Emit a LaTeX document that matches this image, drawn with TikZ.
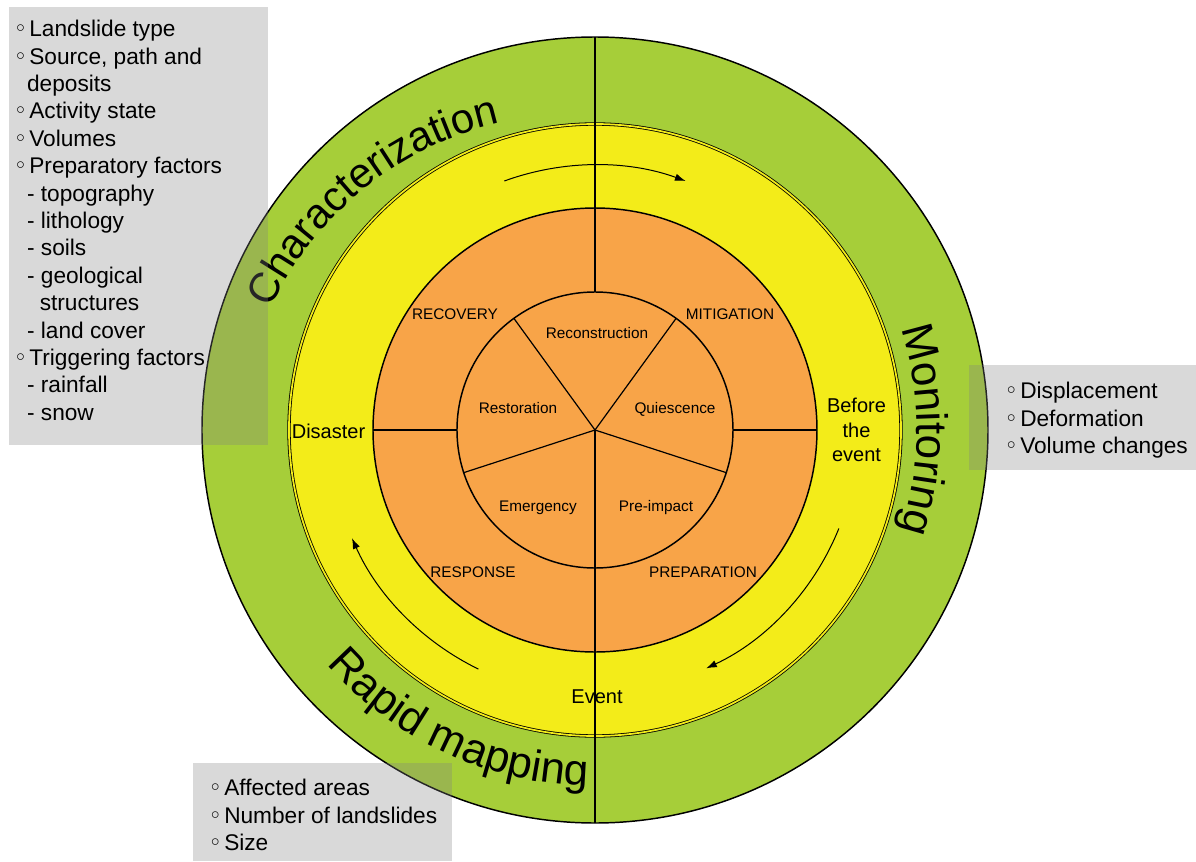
\documentclass[tikz,border=0pt]{standalone}
\usepackage{fontspec}
\setmainfont{Liberation Sans}
\newfontfamily\symfont{DejaVu Sans}
\usetikzlibrary{decorations.text,arrows.meta}
\definecolor{ringgreen}{RGB}{166,206,57}
\definecolor{ringyellow}{RGB}{243,236,25}
\definecolor{ringorange}{RGB}{248,164,72}
\definecolor{boxgray}{RGB}{128,128,128}
\newcommand{\wbul}{\makebox[11.7pt][l]{\symfont\char"25E6}}
\newcommand{\bigfont}{\fontsize{33}{33}\selectfont}
\newcommand{\charfont}{\fontsize{31.5}{31.5}\selectfont}
\begin{document}
\begin{tikzpicture}[x=0.75pt,y=0.75pt,
  ring/.style={line width=1.1pt},
  spoke/.style={line width=0.9pt},
  cyclearrow/.style={line width=0.75pt,-{Latex[length=8pt,width=5.5pt]}},
  phase/.style={font=\fontsize{11.5}{13}\selectfont,inner sep=0pt,anchor=base},
  stage/.style={font=\fontsize{15}{18.4}\selectfont,inner sep=0pt,align=center},
  infobox/.style={fill=boxgray,fill opacity=0.3,inner sep=0pt,anchor=north west},
  infotext/.style={font=\fontsize{17}{20.55}\selectfont,align=left,inner sep=0pt,anchor=north west},
  arctext/.style={decorate,decoration={text along path,text align=center,text={|\bigfont|#1}}},
  arctextc/.style={decorate,decoration={text along path,text align=center,text={|\charfont|#1}}}
]
\useasboundingbox (-595,-431) rectangle (601,430);
\coordinate (c) at (0,0);
% rings
\draw[ring,fill=ringgreen] (c) circle[radius=393];
\draw[line width=0.6pt,double=ringyellow,double distance=1.3pt,fill=ringyellow] (c) circle[radius=306];
\draw[ring,fill=ringorange] (c) circle[radius=222];
\draw[ring] (c) circle[radius=138];
% stage labels
\node[stage] (disaster) at (-266.5,-1) {Disaster};
\node[stage] (before) at (261.5,0) {Before\\the\\event};
\node[stage,anchor=base] (event) at (2,-273) {Event};
% phase labels
\node[phase] (recovery) at (-140,111) {RECOVERY};
\node[phase] (mitigation) at (135,111) {MITIGATION};
\node[phase] (response) at (-122,-147) {RESPONSE};
\node[phase] (preparation) at (108,-147) {PREPARATION};
\node[phase] (reconstruction) at (2,92) {Reconstruction};
\node[phase] (restoration) at (-77,17) {Restoration};
\node[phase] (quiescence) at (80,17) {Quiescence};
\node[phase] (emergency) at (-57,-81) {Emergency};
\node[phase] (preimpact) at (61,-81) {Pre-impact};
% dividing lines
\foreach \a in {54,126,198,342} \draw[spoke] (c) -- (\a:138);
\draw[spoke] (90:138) -- (90:393);
\draw[spoke] (c) -- (270:393);
\draw[spoke] (180:222) -- (180:138);
\draw[spoke] (0:138) -- (0:222);
% cycle arrows
\draw[cyclearrow] (110:265) arc[start angle=110,end angle=70,radius=265];
\draw[cyclearrow] (-22:263) arc[start angle=-22,end angle=-65,radius=263];
\draw[cyclearrow] (244:266) arc[start angle=244,end angle=204,radius=266];
% curved titles
\path[arctextc=Characterization,shift={(-21,-19)}] (174:334) arc[start angle=174,end angle=84,radius=334];
\path[arctext=Monitoring] (45:322) arc[start angle=45,end angle=-45,radius=322];
\path[arctext={Rapid mapping}] (200:356) arc[start angle=200,end angle=290,radius=356];
% info boxes
\node[infobox,minimum width=194.25pt,minimum height=328.5pt] (box1) at (-586,423) {};
\node[infobox,minimum width=170.25pt,minimum height=78.75pt] (box2) at (374,65) {};
\node[infobox,minimum width=194.25pt,minimum height=73.5pt] (box3) at (-402,-333) {};
\node[infotext] (box1text) at (-581.5,410) {\wbul Landslide type\\
\wbul Source, path and\\
\hspace*{10pt}deposits\\
\wbul Activity state\\
\wbul Volumes\\
\wbul Preparatory factors\\
\hspace*{10pt}- topography\\
\hspace*{10pt}- lithology\\
\hspace*{10pt}- soils\\
\hspace*{10pt}- geological\\
\hspace*{19.5pt}structures\\
\hspace*{10pt}- land cover\\
\wbul Triggering factors\\
\hspace*{10pt}- rainfall\\
\hspace*{10pt}- snow};
\node[infotext] (box2text) at (409.4,48) {\wbul Displacement\\
\wbul Deformation\\
\wbul Volume changes};
\node[infotext] (box3text) at (-386.6,-349) {\wbul Affected areas\\
\wbul Number of landslides\\
\wbul Size};
\end{tikzpicture}
\end{document}
